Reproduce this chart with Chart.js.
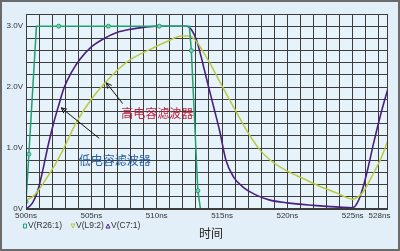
<!DOCTYPE html>
<html>
<head>
<meta charset="utf-8">
<script src="https://cdn.jsdelivr.net/npm/chart.js@4.4.0/dist/chart.umd.min.js"></script>
<style>
  html, body { margin: 0; padding: 0; background: #e2eff8; }
  #wrap { width: 400px; height: 251px; }
</style>
</head>
<body>
<div id="wrap"><canvas id="chart" width="400" height="251"></canvas></div>
<script>
// time axis (ns) and voltages (V)
const greenTime = [500, 500.22, 500.8, 502.5, 506.3, 510.2, 512.5, 512.65, 513.15, 513.35];
const greenVolt = [0.12, 0.9, 3.0, 3.0, 3.0, 3.0, 3.0, 2.6, 0.3, 0];
const greenMarks = [1, 1, 0, 1, 1, 1, 0, 1, 1, 0];

const purpleTime = [500, 500.5, 500.9, 501.3, 501.7, 502.1, 502.5, 502.9, 503.5, 504.1, 505, 506, 507, 508, 509, 510,
  512.3, 512.7, 513.05, 513.4, 513.65, 514, 514.4, 514.8, 515.3, 515.9, 516.6, 517.5, 518.6, 520, 522, 524, 525,
  525.4, 525.8, 526.2, 526.6, 527.2, 527.7];
const purpleVolt = [0, 0.1, 0.3, 0.65, 1.05, 1.4, 1.7, 1.98, 2.25, 2.45, 2.66, 2.8, 2.9, 2.95, 2.98, 3.0,
  3.0, 2.93, 2.77, 2.5, 2.28, 1.98, 1.64, 1.3, 0.8, 0.52, 0.36, 0.24, 0.15, 0.1, 0.06, 0.03, 0.02,
  0.12, 0.36, 0.7, 1.08, 1.6, 1.98];

const yellowTime = [500, 500.5, 500.85, 501.5, 502.2, 502.9, 503.8, 505, 506.1, 507, 507.9, 509.5, 511, 511.9, 512.5,
  513, 513.5, 514.1, 514.8, 515.5, 516.2, 517, 517.9, 518.7, 520, 521.2, 522.5, 523.8, 524.5, 525, 525.4, 525.8,
  526.5, 527.2, 527.7];
const yellowVolt = [0.15, 0.2, 0.28, 0.48, 0.72, 1.0, 1.4, 1.8, 2.08, 2.28, 2.44, 2.62, 2.77, 2.84, 2.84,
  2.76, 2.6, 2.38, 2.1, 1.82, 1.55, 1.25, 0.97, 0.8, 0.62, 0.5, 0.37, 0.26, 0.19, 0.16, 0.2, 0.28,
  0.55, 0.85, 1.13];

const xLabels = { 500: '500ns', 505: '505ns', 510: '510ns', 515: '515ns', 520: '520ns', 525: '525ns', 527.05: '528ns' };
const yLabels = { 0: '0V', 1: '1.0V', 2: '2.0V', 3: '3.0V' };
const seriesNames = ['V(R26:1)', 'V(L9:2)', 'V(C7:1)'];

const GREEN = '#1f9f72';
const PURPLE = '#4a1f7e';
const YELLOW = '#b9c940';
const GRID = '#3c3c3c';

const toPoints = (xs, ys) => xs.map((x, i) => ({ x: x, y: ys[i] }));

const drawArrow = (ctx, x1, y1, x2, y2) => {
  // x1,y1 tail -> x2,y2 tip
  const a = Math.atan2(y2 - y1, x2 - x1);
  ctx.beginPath();
  ctx.moveTo(x1, y1);
  ctx.lineTo(x2, y2);
  ctx.moveTo(x2 - 6 * Math.cos(a - 0.45), y2 - 6 * Math.sin(a - 0.45));
  ctx.lineTo(x2, y2);
  ctx.lineTo(x2 - 6 * Math.cos(a + 0.45), y2 - 6 * Math.sin(a + 0.45));
  ctx.stroke();
};

const decor = {
  id: 'decor',
  beforeDraw(chart) {
    const { ctx, chartArea: a } = chart;
    ctx.save();
    ctx.fillStyle = '#e2eff8';
    ctx.fillRect(0, 0, chart.width, chart.height);
    ctx.strokeStyle = '#6a6a6a';
    ctx.lineWidth = 2;
    ctx.strokeRect(1, 1, chart.width - 2, chart.height - 2);
    ctx.fillStyle = '#e7f3fb';
    ctx.fillRect(a.left, a.top, a.right - a.left, a.bottom - a.top);
    ctx.restore();
  },
  afterDatasetsDraw(chart) {
    const { ctx, chartArea: a, scales } = chart;
    const px = (v) => scales.x.getPixelForValue(v);
    const py = (v) => scales.y.getPixelForValue(v);
    ctx.save();
    ctx.strokeStyle = GRID;
    ctx.lineWidth = 1;
    ctx.strokeRect(a.left + 0.5, a.top + 0.5, a.right - a.left - 1, a.bottom - a.top - 1);

    // annotations
    ctx.strokeStyle = '#111';
    ctx.lineWidth = 1;
    drawArrow(ctx, px(507.4), py(1.73), px(506.15), py(2.07));
    drawArrow(ctx, px(505.6), py(1.16), px(502.7), py(1.66));

    ctx.textAlign = 'center';
    ctx.textBaseline = 'middle';
    ctx.font = '12px "Noto Sans CJK SC"';
    ctx.fillStyle = '#c4203c';
    ctx.fillText('高电容滤波器', px(510.05), py(1.57));
    ctx.fillStyle = '#2a5fa6';
    ctx.fillText('低电容滤波器', px(506.8), py(0.79));

    // legend and axis title
    ctx.font = '8.5px "Liberation Sans"';
    ctx.textAlign = 'left';
    const ly = 226;
    const items = [[25, GREEN, 'sq'], [73, YELLOW, 'down'], [108, PURPLE, 'up']];
    items.forEach((it, i) => {
      const [x, c, shape] = it;
      ctx.strokeStyle = c;
      ctx.lineWidth = 1;
      ctx.beginPath();
      if (shape === 'sq') {
        ctx.rect(x - 1.5, ly - 2, 3, 4);
      } else if (shape === 'down') {
        ctx.moveTo(x - 2, ly - 2); ctx.lineTo(x + 2, ly - 2); ctx.lineTo(x, ly + 2); ctx.closePath();
      } else {
        ctx.moveTo(x - 2, ly + 2); ctx.lineTo(x + 2, ly + 2); ctx.lineTo(x, ly - 2); ctx.closePath();
      }
      ctx.stroke();
      ctx.fillStyle = '#333';
      ctx.fillText(seriesNames[i], x + 3, ly);
    });
    ctx.font = '12px "Noto Sans CJK SC"';
    ctx.textAlign = 'center';
    ctx.fillStyle = '#222';
    ctx.fillText('时间', 211, 233);
    ctx.restore();
  }
};

new Chart(document.getElementById('chart'), {
  type: 'line',
  data: {
    datasets: [
      {
        label: seriesNames[0],
        data: toPoints(greenTime, greenVolt),
        borderColor: GREEN,
        borderWidth: 1.5,
        pointRadius: greenMarks.map((m) => (m ? 2 : 0)),
        pointBackgroundColor: '#7fd0b0',
        pointBorderColor: GREEN,
        pointBorderWidth: 1,
        tension: 0,
      },
      {
        label: seriesNames[1],
        data: toPoints(yellowTime, yellowVolt),
        borderColor: YELLOW,
        borderWidth: 1.5,
        pointRadius: 0,
        cubicInterpolationMode: 'monotone',
      },
      {
        label: seriesNames[2],
        data: toPoints(purpleTime, purpleVolt),
        borderColor: PURPLE,
        borderWidth: 1.6,
        pointRadius: 0,
        cubicInterpolationMode: 'monotone',
      },
    ],
  },
  options: {
    responsive: false,
    animation: false,
    devicePixelRatio: 1,
    layout: { padding: { left: 0, top: 14, right: 12, bottom: 0 } },
    plugins: { legend: { display: false }, tooltip: { enabled: false } },
    scales: {
      x: {
        type: 'linear',
        min: 500,
        max: 527.7,
        afterFit: (s) => { s.height = 42; },
        afterBuildTicks: (s) => {
          const t = [];
          for (let v = 500; v <= 527; v++) t.push({ value: v });
          t.push({ value: 527.05 });
          s.ticks = t;
        },
        border: { display: false },
        grid: {
          drawTicks: false,
          color: (c) => (c.tick && c.tick.value === 527.05 ? 'rgba(0,0,0,0)' : GRID),
          lineWidth: 1,
        },
        ticks: {
          autoSkip: false,
          maxRotation: 0,
          padding: 2,
          color: '#333',
          font: { family: 'Liberation Sans', size: 8 },
          callback: (v) => xLabels[v] || '',
        },
      },
      y: {
        min: 0,
        max: 3.2,
        afterFit: (s) => { s.width = 26; },
        border: { display: false },
        grid: { drawTicks: false, color: GRID, lineWidth: 1 },
        ticks: {
          stepSize: 0.2,
          autoSkip: false,
          padding: 3,
          color: '#333',
          font: { family: 'Liberation Sans', size: 8 },
          callback: (v) => {
            const r = Math.round(v);
            return Math.abs(v - r) < 1e-6 ? yLabels[r] || '' : '';
          },
        },
      },
    },
  },
  plugins: [decor],
});
</script>
</body>
</html>
